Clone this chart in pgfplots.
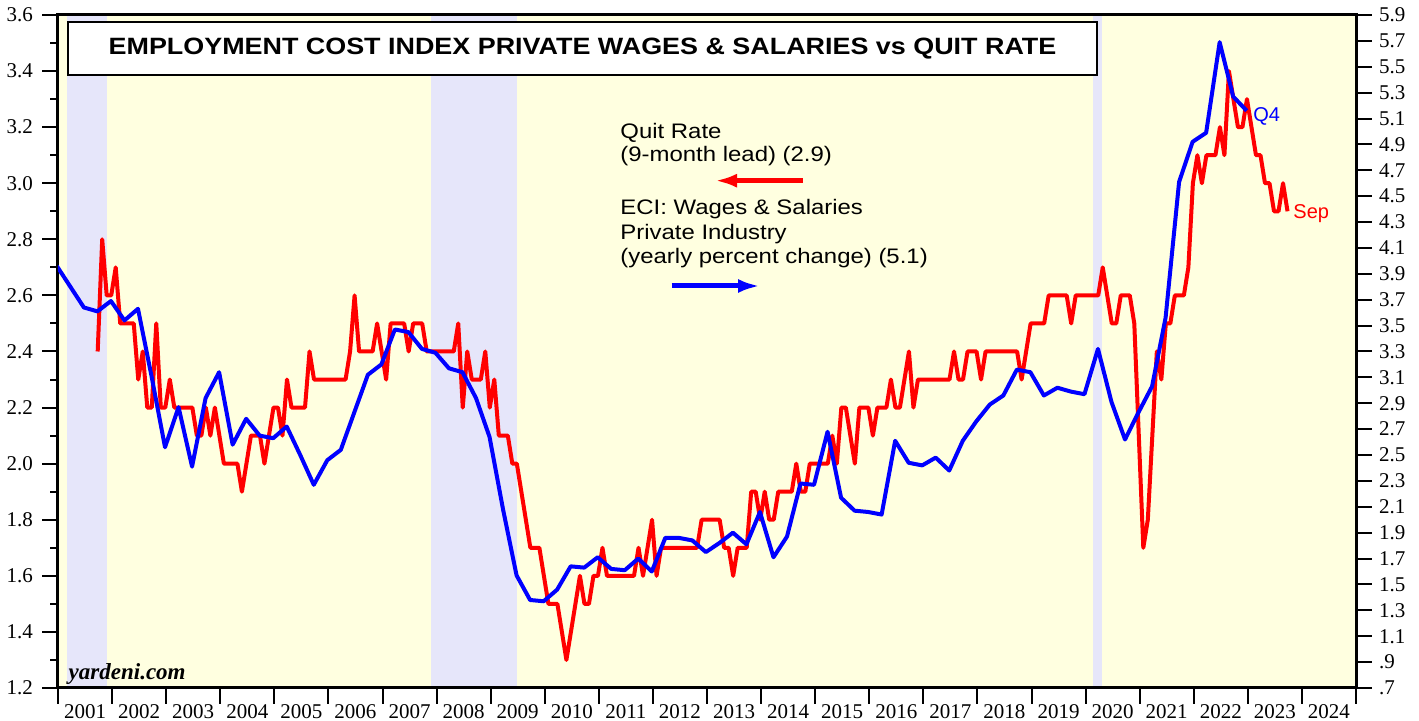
\documentclass[border=0pt]{standalone}
\usepackage{fontspec}
\setmainfont{Liberation Serif}
\newfontfamily\arial{Liberation Sans}
\newfontfamily\arialw[FakeStretch=1.14]{Liberation Sans}
\usepackage{pgfplots}
\pgfplotsset{compat=1.18}
\usepackage{pgfplotstable}
\usetikzlibrary{arrows.meta}
\definecolor{bgy}{RGB}{255,255,224}
\definecolor{lav}{RGB}{230,230,250}
\definecolor{qred}{RGB}{255,0,0}
\definecolor{eblue}{RGB}{0,0,255}

% Quit rate (9-month lead), monthly; m = months after Sep 2001 (plotted position)
\pgfplotstableread{
m q
0 2.4
1 2.8
2 2.6
3 2.6
4 2.7
5 2.5
6 2.5
7 2.5
8 2.5
9 2.3
10 2.4
11 2.2
12 2.2
13 2.5
14 2.2
15 2.2
16 2.3
17 2.2
18 2.2
19 2.2
20 2.2
21 2.2
22 2.1
23 2.1
24 2.2
25 2.1
26 2.2
27 2.1
28 2.0
29 2.0
30 2.0
31 2.0
32 1.9
33 2.0
34 2.1
35 2.1
36 2.1
37 2.0
38 2.1
39 2.2
40 2.2
41 2.1
42 2.3
43 2.2
44 2.2
45 2.2
46 2.2
47 2.4
48 2.3
49 2.3
50 2.3
51 2.3
52 2.3
53 2.3
54 2.3
55 2.3
56 2.4
57 2.6
58 2.4
59 2.4
60 2.4
61 2.4
62 2.5
63 2.4
64 2.3
65 2.5
66 2.5
67 2.5
68 2.5
69 2.4
70 2.5
71 2.5
72 2.5
73 2.4
74 2.4
75 2.4
76 2.4
77 2.4
78 2.4
79 2.4
80 2.5
81 2.2
82 2.4
83 2.3
84 2.3
85 2.3
86 2.4
87 2.2
88 2.3
89 2.1
90 2.1
91 2.1
92 2.0
93 2.0
94 1.9
95 1.8
96 1.7
97 1.7
98 1.7
99 1.6
100 1.5
101 1.5
102 1.5
103 1.4
104 1.3
105 1.4
106 1.5
107 1.6
108 1.5
109 1.5
110 1.6
111 1.6
112 1.7
113 1.6
114 1.6
115 1.6
116 1.6
117 1.6
118 1.6
119 1.6
120 1.7
121 1.6
122 1.7
123 1.8
124 1.6
125 1.7
126 1.7
127 1.7
128 1.7
129 1.7
130 1.7
131 1.7
132 1.7
133 1.7
134 1.8
135 1.8
136 1.8
137 1.8
138 1.8
139 1.7
140 1.7
141 1.6
142 1.7
143 1.7
144 1.7
145 1.9
146 1.9
147 1.8
148 1.9
149 1.8
150 1.8
151 1.9
152 1.9
153 1.9
154 1.9
155 2.0
156 1.9
157 1.9
158 2.0
159 2.0
160 2.0
161 2.0
162 2.0
163 2.1
164 2.0
165 2.2
166 2.2
167 2.1
168 2.0
169 2.2
170 2.2
171 2.2
172 2.1
173 2.2
174 2.2
175 2.2
176 2.3
177 2.2
178 2.2
179 2.3
180 2.4
181 2.2
182 2.3
183 2.3
184 2.3
185 2.3
186 2.3
187 2.3
188 2.3
189 2.3
190 2.4
191 2.3
192 2.3
193 2.4
194 2.4
195 2.4
196 2.3
197 2.4
198 2.4
199 2.4
200 2.4
201 2.4
202 2.4
203 2.4
204 2.4
205 2.3
206 2.4
207 2.5
208 2.5
209 2.5
210 2.5
211 2.6
212 2.6
213 2.6
214 2.6
215 2.6
216 2.5
217 2.6
218 2.6
219 2.6
220 2.6
221 2.6
222 2.6
223 2.7
224 2.6
225 2.5
226 2.5
227 2.6
228 2.6
229 2.6
230 2.5
231 2.1
232 1.7
233 1.8
234 2.1
235 2.4
236 2.3
237 2.5
238 2.5
239 2.6
240 2.6
241 2.6
242 2.7
243 3.0
244 3.1
245 3.0
246 3.1
247 3.1
248 3.1
249 3.2
250 3.1
251 3.4
252 3.3
253 3.2
254 3.2
255 3.3
256 3.2
257 3.1
258 3.1
259 3.0
260 3.0
261 2.9
262 2.9
263 3.0
264 2.9
}\quits

% ECI wages & salaries, private industry, yoy %, quarterly
\pgfplotstableread{
t eci
2000.979 3.96
2001.229 3.80
2001.479 3.64
2001.729 3.61
2001.979 3.69
2002.229 3.54
2002.479 3.63
2002.729 3.11
2002.979 2.56
2003.229 2.87
2003.479 2.41
2003.729 2.94
2003.979 3.14
2004.229 2.58
2004.479 2.78
2004.729 2.65
2004.979 2.63
2005.229 2.72
2005.479 2.50
2005.729 2.27
2005.979 2.46
2006.229 2.54
2006.479 2.83
2006.729 3.12
2006.979 3.20
2007.229 3.47
2007.479 3.45
2007.729 3.32
2007.979 3.29
2008.229 3.17
2008.479 3.14
2008.729 2.94
2008.979 2.64
2009.229 2.08
2009.479 1.57
2009.729 1.38
2009.979 1.37
2010.229 1.46
2010.479 1.64
2010.729 1.63
2010.979 1.71
2011.229 1.62
2011.479 1.61
2011.729 1.70
2011.979 1.60
2012.229 1.86
2012.479 1.86
2012.729 1.84
2012.979 1.75
2013.229 1.82
2013.479 1.90
2013.729 1.81
2013.979 2.06
2014.229 1.71
2014.479 1.87
2014.729 2.28
2014.979 2.27
2015.229 2.68
2015.479 2.17
2015.729 2.07
2015.979 2.06
2016.229 2.04
2016.479 2.61
2016.729 2.44
2016.979 2.42
2017.229 2.48
2017.479 2.38
2017.729 2.61
2017.979 2.76
2018.229 2.89
2018.479 2.96
2018.729 3.16
2018.979 3.14
2019.229 2.96
2019.479 3.02
2019.729 2.99
2019.979 2.97
2020.229 3.32
2020.479 2.91
2020.729 2.62
2020.979 2.83
2021.229 3.03
2021.479 3.56
2021.729 4.61
2021.979 4.92
2022.229 4.99
2022.479 5.69
2022.729 5.27
2022.979 5.16
}\eci

\begin{document}
\begin{tikzpicture}
\useasboundingbox (-29pt,-16.5pt) rectangle (680.5pt,344pt);
\begin{axis}[
  at={(0pt,0pt)}, anchor=south west,
  scale only axis, width=649pt, height=336.5pt,
  xmin=2001, xmax=2025, ymin=1.2, ymax=3.6,
  axis background/.style={fill=bgy},
  axis line style={line width=1.5pt},
  axis on top,
  xtick={2001,2002,2003,2004,2005,2006,2007,2008,2009,2010,2011,2012,2013,2014,2015,2016,2017,2018,2019,2020,2021,2022,2023,2024,2025},
  x tick label as interval,
  xticklabels={2001,2002,2003,2004,2005,2006,2007,2008,2009,2010,2011,2012,2013,2014,2015,2016,2017,2018,2019,2020,2021,2022,2023,2024},
  ytick={1.2,1.4,1.6,1.8,2.0,2.2,2.4,2.6,2.8,3.0,3.2,3.4,3.6},
  minor y tick num=1,
  tick align=outside,
  xtick pos=bottom, ytick pos=left,
  major tick length=8pt, minor tick length=4pt,
  every tick/.style={black, line width=1pt},
  minor tick style={black, line width=1pt},
  /pgf/number format/assume math mode=true,
  yticklabel={\pgfmathprintnumber[fixed,fixed zerofill,precision=1]{\tick}},
  tick label style={font=\fontsize{10.5}{12}\selectfont},
  yticklabel style={xshift=-1pt},
  xticklabel style={anchor=base, yshift=-7.5pt},
  typeset ticklabels with strut=false,
]
\fill[lav] (axis cs:2001.16,1.2) rectangle (axis cs:2001.91,3.6);
\fill[lav] (axis cs:2007.90,1.2) rectangle (axis cs:2009.48,3.6);
\fill[lav] (axis cs:2020.145,1.2) rectangle (axis cs:2020.30,3.6);
\addplot[qred, line width=2pt, line join=round] table[x expr={2001.734+\thisrow{m}/12}, y=q] {\quits};
\end{axis}
\begin{axis}[
  at={(0pt,0pt)}, anchor=south west,
  scale only axis, width=649pt, height=336.5pt,
  xmin=2001, xmax=2025, ymin=0.7, ymax=5.9,
  hide x axis,
  axis line style={line width=1.5pt},
  ytick={0.7,0.9,1.1,1.3,1.5,1.7,1.9,2.1,2.3,2.5,2.7,2.9,3.1,3.3,3.5,3.7,3.9,4.1,4.3,4.5,4.7,4.9,5.1,5.3,5.5,5.7,5.9},
  yticklabels={.7,.9,1.1,1.3,1.5,1.7,1.9,2.1,2.3,2.5,2.7,2.9,3.1,3.3,3.5,3.7,3.9,4.1,4.3,4.5,4.7,4.9,5.1,5.3,5.5,5.7,5.9},
  ytick pos=right, yticklabel pos=right,
  tick align=outside,
  major tick length=8pt,
  every tick/.style={black, line width=1pt},
  tick label style={font=\fontsize{10.5}{12}\selectfont},
]
\addplot[eblue, line width=2pt, line join=round] table[x=t, y=eci] {\eci};
\end{axis}
% annotations (pt; origin at axis lower-left)
\draw[line width=0.8pt, fill=white] (5pt,306.5pt) rectangle (519.5pt,333pt);
\node[font=\arialw\bfseries\fontsize{11.8}{14}\selectfont] at (262.25pt,319.75pt) {EMPLOYMENT COST INDEX PRIVATE WAGES \& SALARIES vs QUIT RATE};
\begin{scope}[every node/.style={anchor=base west, inner sep=0pt, font=\arialw\fontsize{10.5}{12}\selectfont}]
\node at (281pt,274.85pt) {Quit Rate};
\node at (281pt,263.15pt) {(9-month lead) (2.9)};
\node at (281pt,236.5pt) {ECI: Wages \& Salaries};
\node at (281pt,224.35pt) {Private Industry};
\node at (281pt,212.35pt) {(yearly percent change) (5.1)};
\end{scope}
\begin{scope}[every node/.style={anchor=base west, inner sep=0pt, font=\arial\fontsize{10}{12}\selectfont}]
\node[text=eblue] at (597.5pt,283.25pt) {Q4};
\node[text=qred] at (617.5pt,234.85pt) {Sep};
\end{scope}
\draw[qred, line width=2.5pt, -{Latex[length=11pt,width=7pt]}] (372.35pt,253.65pt) -- (328.5pt,253.65pt);
\draw[eblue, line width=2.5pt, -{Latex[length=11pt,width=7pt]}] (306.85pt,201pt) -- (351pt,201pt);
\node[anchor=base west, inner sep=0pt, font=\bfseries\itshape\fontsize{11.5}{13}\selectfont] at (5.15pt,4.35pt) {yardeni.com};
\end{tikzpicture}
\end{document}
